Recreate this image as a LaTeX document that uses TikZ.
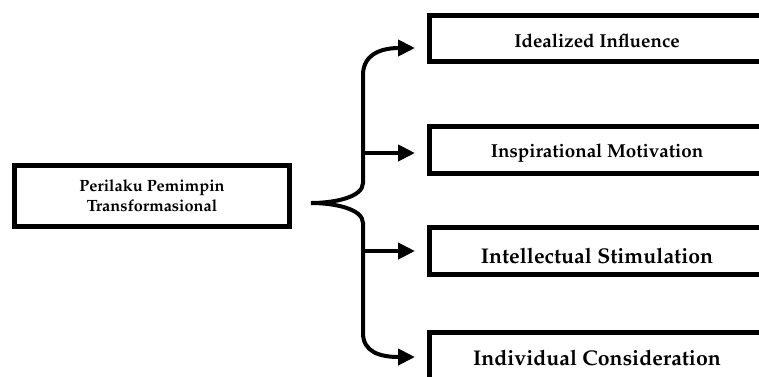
\documentclass[tikz,border=0pt]{standalone}
\usepackage[T1]{fontenc}
\usepackage{mathpazo}
\usetikzlibrary{arrows.meta}
\tikzset{
  box/.style={draw, line width=5pt, inner sep=0pt, align=center, font=\bfseries},
  arr/.style={line width=4pt, -{Triangle[length=17pt,width=16pt]}},
}
\begin{document}
\begin{tikzpicture}[x=1pt,y=-1pt]
  \useasboundingbox (0,0) rectangle (759,376);
  \clip (0,0) rectangle (759,376);
  % boxes
  \node [box, minimum width=275pt, minimum height=61pt, font=\bfseries\fontsize{16.3}{20}\selectfont] (lead) at (152,196) {Perilaku Pemimpin\\Transformasional};
  \node [box, minimum width=335pt, minimum height=46pt, text height=17pt, text depth=0pt, font=\bfseries\fontsize{18.8}{20}\selectfont] (ideal) at (597,38.5) {Idealized Influence};
  \node [box, minimum width=335pt, minimum height=47pt, text height=14pt, text depth=0pt, font=\bfseries\fontsize{18.8}{20}\selectfont] (insp) at (597,150) {Inspirational Motivation};
  \node [box, minimum width=335pt, minimum height=47pt, text height=24pt, text depth=0pt, font=\bfseries\fontsize{21.3}{20}\selectfont] (intel) at (597,251) {Intellectual Stimulation};
  \node [box, minimum width=335pt, minimum height=47pt, text height=18pt, text depth=0pt, font=\bfseries\fontsize{21.3}{20}\selectfont] (indiv) at (597,356) {Individual Consideration};
  % brace
  \coordinate (tip) at ([xshift=19pt,yshift=-7pt]lead.east);
  \coordinate (top) at (363,75);
  \coordinate (bot) at (363,333);
  \draw [line width=4pt, line cap=round] (top) -- (363,183) .. controls (363,197) and (335,203) .. (tip)
    .. controls (335,203) and (363,209) .. (363,223) -- (bot);
  % arrows
  \coordinate (t1) at ([xshift=-12pt,yshift=-9.5pt]ideal.west);
  \coordinate (t4) at ([xshift=-12pt,yshift=-1pt]indiv.west);
  \draw [arr] (top) .. controls (363,55) and (380,48) .. (t1);
  \draw [arr] (363,153) -- ([xshift=-12pt,yshift=-3pt]insp.west);
  \draw [arr] (363,251) -- ([xshift=-12pt]intel.west);
  \draw [arr] (bot) .. controls (363,352) and (380,357) .. (t4);
\end{tikzpicture}
\end{document}
